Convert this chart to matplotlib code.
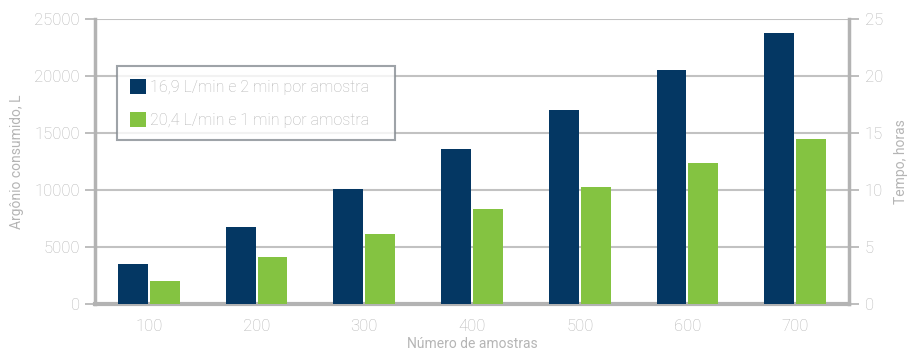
import numpy as np
import matplotlib
matplotlib.use('Agg')
import matplotlib.pyplot as plt

# dados
amostras = ['100', '200', '300', '400', '500', '600', '700']
argonio_2min = [3470, 6740, 10100, 13620, 17060, 20550, 23780]
argonio_1min = [2060, 4090, 6120, 8350, 10260, 12380, 14470]
legenda = ['16,9 L/min e 2 min por amostra', '20,4 L/min e 1 min por amostra']

cor_azul = '#043763'
cor_verde = '#84c341'
cor_texto = '#b5b5b5'
cor_eixo = '#b3b3b3'

plt.rcParams['font.family'] = ['Roboto', 'DejaVu Sans']
plt.rcParams['font.weight'] = 'light'

fig = plt.figure(figsize=(9.08, 3.51), dpi=100)
ax = fig.add_axes([95/908, 47/351, 754/908, 285/351])

x = np.arange(len(amostras))
w = 0.278
gap = 0.009
b1 = ax.bar(x - w/2 - gap, argonio_2min, w, color=cor_azul, label=legenda[0], zorder=3)
b2 = ax.bar(x + w/2 + gap, argonio_1min, w, color=cor_verde, label=legenda[1], zorder=3)

ax.set_xlim(-0.5, len(amostras) - 0.5)
ax.set_ylim(0, 25000)
ax.set_yticks(range(0, 25001, 5000))
ax.set_xticks(x)
ax.set_xticklabels(amostras)

ax.set_axisbelow(True)
ax.yaxis.grid(True, color='#c2c2c2', linewidth=1.5)

for s in ['top', 'right']:
    ax.spines[s].set_visible(False)
ax.spines['left'].set_color(cor_eixo)
ax.spines['left'].set_linewidth(2.5)
ax.spines['bottom'].set_color(cor_eixo)
ax.spines['bottom'].set_linewidth(3)

ax.tick_params(axis='y', length=7.5, width=1.2, color=cor_eixo, labelcolor=cor_texto,
               labelsize=12, pad=3.5)
ax.tick_params(axis='x', length=0, labelcolor=cor_texto, labelsize=12, pad=11)

ax.set_ylabel('Argônio consumido, L', color=cor_texto, fontsize=10, labelpad=7)
ax.set_xlabel('Número de amostras', color=cor_texto, fontsize=10, labelpad=2)

# eixo da direita (horas)
ax2 = ax.twinx()
ax2.set_ylim(0, 25)
ax2.set_yticks(range(0, 26, 5))
for s in ['top', 'left', 'bottom']:
    ax2.spines[s].set_visible(False)
ax2.spines['right'].set_color(cor_eixo)
ax2.spines['right'].set_linewidth(2.5)
ax2.tick_params(axis='y', length=7.5, width=1.2, color=cor_eixo, labelcolor=cor_texto,
                labelsize=12, pad=4)
ax2.set_ylabel('Tempo, horas', color=cor_texto, fontsize=10, labelpad=8)

leg = ax2.legend(handles=[b1, b2], labels=legenda, loc='upper left',
                 bbox_to_anchor=(22/754, 0, 278/754, 238/285), mode='expand',
                 borderaxespad=0, fontsize=11.6, frameon=True, fancybox=False,
                 handlelength=1.05, handleheight=1.05, handletextpad=0.2,
                 labelspacing=1.08, borderpad=0.78)
leg.get_frame().set_edgecolor('#868c92')
leg.get_frame().set_linewidth(1.5)
for t in leg.get_texts():
    t.set_color(cor_texto)

fig.savefig('out.png', dpi=100)
